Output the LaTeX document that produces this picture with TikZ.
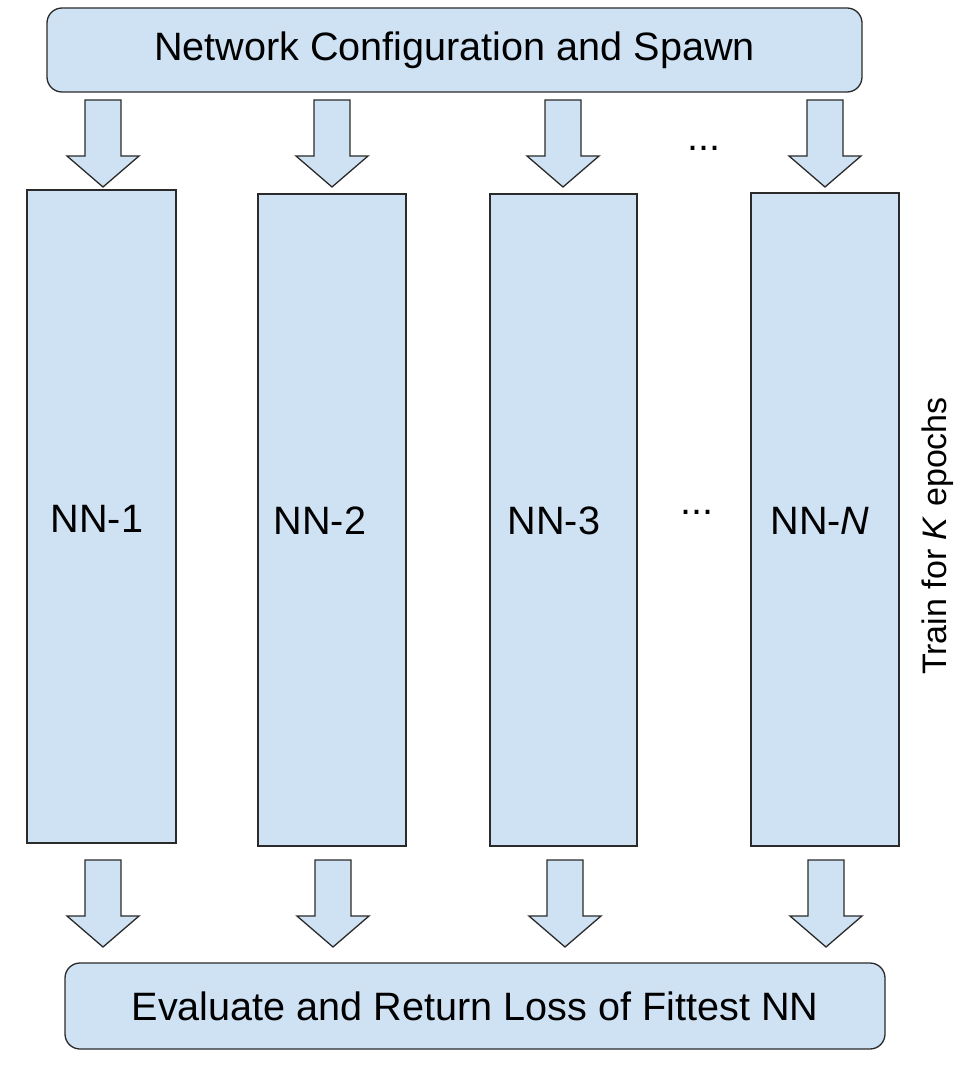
\documentclass[tikz,border=0pt]{standalone}
\usepackage{fontspec}
\setmainfont{Liberation Sans}
\definecolor{boxblue}{HTML}{CFE2F3}
\definecolor{edgegray}{HTML}{2A2A2A}
\newcommand\bigdownarrow[3]{% name, x, top y
  \draw[arrowshape] (#2-18,#3) coordinate (#1) -- (#2+18,#3) -- (#2+18,#3+56) -- (#2+36,#3+56)
    -- (#2,#3+87) -- (#2-36,#3+56) -- (#2-18,#3+56) -- cycle;}
\begin{document}
\begin{tikzpicture}[x=1pt,y=-1pt,
  blockbox/.style={draw=edgegray,fill=boxblue,line width=1.3pt,inner sep=0pt},
  arrowshape/.style={draw=edgegray,fill=boxblue,line width=1.3pt,line join=miter},
  bigtext/.style={font=\fontsize{39.6}{44}\selectfont,inner sep=0pt}]
\useasboundingbox (0,0) rectangle (977,1075);
% top box
\node[blockbox,rounded corners=15pt,minimum width=815,minimum height=84,bigtext] (top) at (454.5,50) {Network Configuration and Spawn};
% columns
\node[blockbox,minimum width=149,minimum height=653] (nn1) at (101.5,516.5) {};
\node[blockbox,minimum width=148,minimum height=652] (nn2) at (332,520) {};
\node[blockbox,minimum width=147,minimum height=652] (nn3) at (563.5,520) {};
\node[blockbox,minimum width=148,minimum height=653] (nnN) at (825,519.5) {};
\node[bigtext] (l1) at (97,519) {NN-1};
\node[bigtext] (l2) at (320,521) {NN-2};
\node[bigtext] (l3) at (554,521) {NN-3};
\node[bigtext] (lN) at (820,521) {NN-\textit{N}};
\node[bigtext] (dotsmid) at (697,512) {...};
\node[bigtext] (dotstop) at (704,148) {...};
% bottom box
\node[blockbox,rounded corners=15pt,minimum width=820,minimum height=86,bigtext] (bottom) at (475,1006) {Evaluate and Return Loss of Fittest NN};
% side label
\node[font=\fontsize{34}{40}\selectfont,inner sep=0pt,rotate=90] (train) at (938,536) {Train for \textit{K} epochs};
% arrows
\bigdownarrow{a1}{103}{100}
\bigdownarrow{a2}{332}{100}
\bigdownarrow{a3}{563}{100}
\bigdownarrow{a4}{825}{100}
\bigdownarrow{b1}{103}{860}
\bigdownarrow{b2}{333}{860}
\bigdownarrow{b3}{565}{860}
\bigdownarrow{b4}{826}{860}
\end{tikzpicture}
\end{document}
